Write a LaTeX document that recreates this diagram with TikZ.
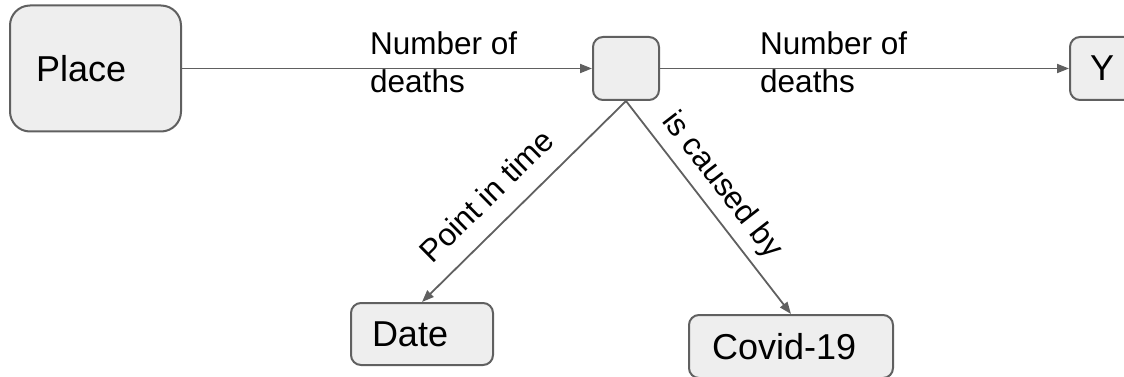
\documentclass[tikz,border=0pt]{standalone}
\usepackage{fontspec}
\setmainfont{Liberation Sans}
\usetikzlibrary{arrows.meta}
\definecolor{boxfill}{HTML}{EEEEEE}
\definecolor{boxline}{HTML}{606060}
\begin{document}
\begin{tikzpicture}[x=1pt,y=-1pt,
  box/.style={draw=boxline, fill=boxfill, line width=2pt, rounded corners=10pt,
    align=left, inner ysep=0pt, font=\fontsize{36}{43}\selectfont},
  edge/.style={draw=boxline, line width=1.8pt, -{Triangle[length=12pt,width=9pt]}},
  lab/.style={font=\fontsize{31.5}{38}\selectfont, inner sep=0pt, align=left},
]
\clip (0,0) rectangle (1124,377);
\node[box, rounded corners=20pt, minimum height=126pt, text width=119pt, inner xsep=26pt] (place) at (95.5,68.5) {Place};
\node[box, minimum width=66pt, minimum height=63pt, inner sep=0pt] (hub) at (626,68.5) {};
\node[box, minimum height=63pt, text width=60pt, inner xsep=20pt] (y) at (1120,68.5) {Y};
\node[box, minimum height=62pt, text width=100pt, inner xsep=21pt] (date) at (422,334) {Date};
\node[box, minimum height=63pt, text width=158pt, inner xsep=23pt] (covid) at (791,346.5) {Covid-19};
\draw[edge] (place) -- (hub);
\draw[edge] (hub) -- (y);
\draw[edge] (hub.south) -- (date.north) node[lab, sloped, pos=0.58, above=18pt] (pit) {Point in time};
\draw[edge] (hub.south) -- (covid.north) node[lab, sloped, pos=0.465, above=15pt, text depth=0pt] (icb) {is caused by};
\node[lab, anchor=north west] (l1) at (370,31.5) {Number of\\deaths};
\node[lab, anchor=north west] (l2) at (760,31.5) {Number of\\deaths};
\end{tikzpicture}
\end{document}
